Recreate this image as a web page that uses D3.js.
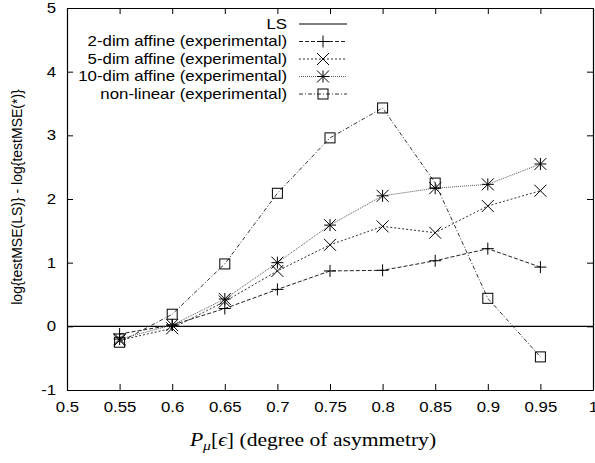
<!DOCTYPE html>
<html>
<head>
<meta charset="utf-8">
<script src="https://cdn.jsdelivr.net/npm/d3@7"></script>
<style>
  body { margin: 0; background: #fff; }
  svg { display: block; }
  .axis text { font-family: 'Liberation Sans', Arial, sans-serif; font-size: 14px; fill: #000; }
  .axis path, .axis line { stroke: #000; }
</style>
</head>
<body>
<div id="chart"></div>
<script>
let xValues = [0.55, 0.6, 0.65, 0.7, 0.75, 0.8, 0.85, 0.9, 0.95]
let xTicks = [0.5, 0.55, 0.6, 0.65, 0.7, 0.75, 0.8, 0.85, 0.9, 0.95, 1]
let yTicks = [-1, 0, 1, 2, 3, 4, 5]

let seriesNames = ['LS', '2-dim affine (experimental)', '5-dim affine (experimental)', '10-dim affine (experimental)', 'non-linear (experimental)']
let affine2 = [-0.12, 0.02, 0.28, 0.58, 0.87, 0.88, 1.03, 1.22, 0.93]
let affine5 = [-0.22, -0.03, 0.39, 0.87, 1.28, 1.57, 1.47, 1.89, 2.13]
let affine10 = [-0.2, 0.02, 0.43, 1.0, 1.59, 2.05, 2.17, 2.23, 2.55]
let nonLinear = [-0.25, 0.19, 0.98, 2.09, 2.96, 3.43, 2.25, 0.44, -0.48]
let lsValue = 0

let config = {
  width: 595,
  height: 463,
  margin: { top: 8, right: 2, bottom: 73, left: 67 },
  stretch: 1.2 // the reference text is drawn wider than tall
}

let styles = [
  { dash: null, marker: null, stroke: '#000' },
  { dash: '4,2', marker: 'plus', stroke: '#222' },
  { dash: '2,2', marker: 'cross', stroke: '#333' },
  { dash: '1,1', marker: 'star', stroke: '#555' },
  { dash: '4,2,1,2', marker: 'square', stroke: '#333' }
]

let sans = "'Liberation Sans', Arial, sans-serif"
let serif = "'Liberation Serif', 'Times New Roman', serif"

let svg = d3.select('#chart')
  .append('svg')
  .attr('width', config.width)
  .attr('height', config.height)

let w = config.width - config.margin.left - config.margin.right
let h = config.height - config.margin.top - config.margin.bottom

let g = svg.append('g')
  .attr('transform', `translate(${config.margin.left},${config.margin.top})`)

let x = d3.scaleLinear().domain([0.5, 1]).range([0, w])
let y = d3.scaleLinear().domain([-1, 5]).range([h, 0])

let fmt = d => String(+d.toFixed(2))

// axes with inward ticks, mirrored on top and right
g.append('g').attr('class', 'axis')
  .attr('transform', `translate(0,${h})`)
  .call(d3.axisBottom(x).tickValues(xTicks).tickFormat(fmt).tickSizeInner(-6).tickSizeOuter(0).tickPadding(12))
g.append('g').attr('class', 'axis')
  .call(d3.axisTop(x).tickValues(xTicks).tickFormat('').tickSizeInner(-6).tickSizeOuter(0))
g.append('g').attr('class', 'axis')
  .call(d3.axisLeft(y).tickValues(yTicks).tickFormat(fmt).tickSizeInner(-6).tickSizeOuter(0).tickPadding(9))
g.append('g').attr('class', 'axis')
  .attr('transform', `translate(${w},0)`)
  .call(d3.axisRight(y).tickValues(yTicks).tickFormat('').tickSizeInner(-6).tickSizeOuter(0))

g.selectAll('.axis .domain').attr('stroke-width', 1.2)
g.selectAll('.axis text').attr('transform', `scale(${config.stretch},1)`)

// LS baseline
g.append('line')
  .attr('x1', x(0.5)).attr('x2', x(1))
  .attr('y1', y(lsValue)).attr('y2', y(lsValue))
  .attr('stroke', '#000')
  .attr('stroke-width', 1.2)

function drawMarker(sel, type) {
  let s = 6
  if (type === 'plus') {
    sel.append('path').attr('d', `M${-s},0H${s}M0,${-s}V${s}`)
  } else if (type === 'cross') {
    sel.append('path').attr('d', `M${-s},${-s}L${s},${s}M${-s},${s}L${s},${-s}`)
  } else if (type === 'star') {
    sel.append('path').attr('d', `M${-s},0H${s}M0,${-s}V${s}M${-s},${-s}L${s},${s}M${-s},${s}L${s},${-s}`)
  } else if (type === 'square') {
    sel.append('rect').attr('x', -5).attr('y', -5).attr('width', 10).attr('height', 10)
  }
  sel.selectAll('path, rect').attr('stroke', '#000').attr('stroke-width', 1).attr('fill', 'none')
}

let allSeries = [affine2, affine5, affine10, nonLinear]
let line = d3.line().x(d => x(d[0])).y(d => y(d[1]))

allSeries.forEach(function(vals, i) {
  let st = styles[i + 1]
  let pts = xValues.map((xv, j) => [xv, vals[j]])
  g.append('path')
    .datum(pts)
    .attr('d', line)
    .attr('fill', 'none')
    .attr('stroke', st.stroke)
    .attr('stroke-width', 1)
    .attr('stroke-dasharray', st.dash)
  g.selectAll('.m' + i)
    .data(pts)
    .enter()
    .append('g')
    .attr('class', 'm' + i)
    .attr('transform', d => `translate(${x(d[0])},${y(d[1])})`)
    .each(function() { drawMarker(d3.select(this), st.marker) })
})

// legend
let legend = svg.append('g')
seriesNames.forEach(function(name, i) {
  let ly = 24 + i * 17.5
  let st = styles[i]
  legend.append('g')
    .attr('transform', `translate(287,${ly}) scale(${config.stretch},1)`)
    .append('text')
    .attr('dy', '0.35em')
    .attr('text-anchor', 'end')
    .style('font-family', sans)
    .style('font-size', '14px')
    .text(name)
  legend.append('line')
    .attr('x1', 299).attr('x2', 347)
    .attr('y1', ly).attr('y2', ly)
    .attr('stroke', st.stroke)
    .attr('stroke-width', 1)
    .attr('stroke-dasharray', st.dash)
  if (st.marker) {
    let mg = legend.append('g').attr('transform', `translate(323,${ly})`)
    drawMarker(mg, st.marker)
  }
})

// y axis label
svg.append('text')
  .attr('transform', `translate(17,${config.margin.top + h / 2 - 2}) rotate(-90)`)
  .attr('text-anchor', 'middle')
  .attr('dy', '0.35em')
  .style('font-family', sans)
  .style('font-size', '14px')
  .text('log{testMSE(LS)} - log{testMSE(*)}')

// x axis label
let xl = svg.append('g')
  .attr('transform', `translate(313,446) scale(${config.stretch},1)`)
  .append('text')
  .attr('text-anchor', 'middle')
  .style('font-family', serif)
  .style('font-size', '18px')
xl.append('tspan').style('font-style', 'italic').text('P')
xl.append('tspan').attr('dy', 4).style('font-size', '13px').style('font-style', 'italic').text('μ')
xl.append('tspan').attr('dy', -4).text('[')
xl.append('tspan').style('font-style', 'italic').text('ϵ')
xl.append('tspan').text('] (degree of asymmetry)')
</script>
</body>
</html>
